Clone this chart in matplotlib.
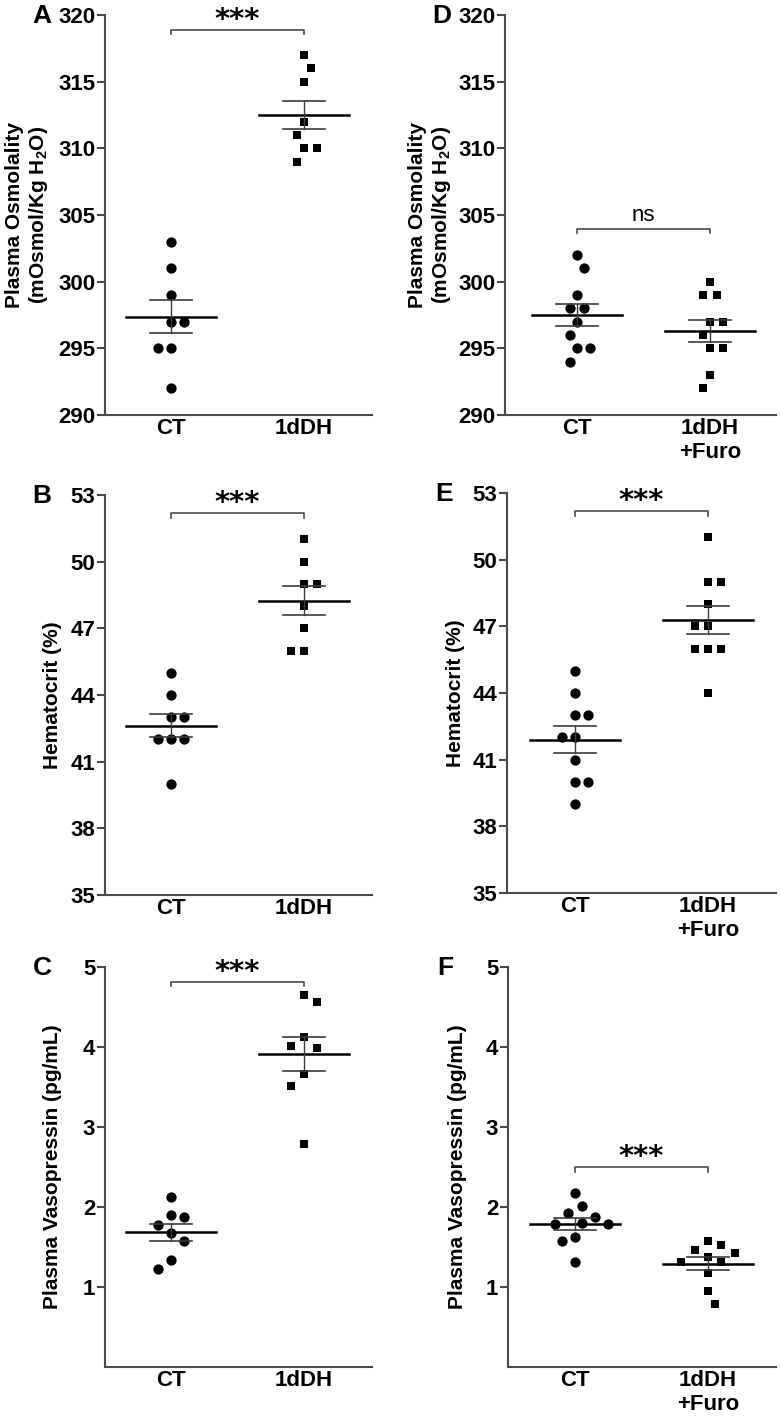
import numpy as np
import matplotlib
matplotlib.use('Agg')
import matplotlib.pyplot as plt

plt.rcParams['font.family'] = ['Liberation Sans', 'DejaVu Sans']
plt.rcParams['font.weight'] = 'bold'
plt.rcParams['mathtext.fontset'] = 'custom'
plt.rcParams['mathtext.rm'] = 'Liberation Sans:bold'
plt.rcParams['mathtext.it'] = 'Liberation Sans:bold'

# values
osm_ct = [303, 301, 299, 297, 297, 295, 295, 292]
osm_dh = [317, 316, 315, 312, 311, 310, 310, 309]
osm_ct2 = [302, 301, 299, 298, 298, 297, 296, 295, 295, 294]
osm_furo = [300, 299, 299, 297, 297, 296, 295, 295, 293, 292]

hct_ct = [45, 44, 43, 43, 42, 42, 42, 40]
hct_dh = [51, 50, 49, 49, 48, 47, 46, 46]
hct_ct2 = [45, 44, 43, 43, 42, 42, 41, 40, 40, 39]
hct_furo = [51, 49, 49, 48, 47, 47, 46, 46, 46, 44]

avp_ct = [2.12, 1.90, 1.87, 1.77, 1.67, 1.58, 1.34, 1.22]
avp_dh = [4.65, 4.56, 4.13, 4.01, 3.99, 3.66, 3.51, 2.79]
avp_ct2 = [2.17, 2.01, 1.92, 1.88, 1.80, 1.79, 1.79, 1.63, 1.58, 1.31]
avp_furo = [1.58, 1.52, 1.46, 1.43, 1.38, 1.31, 1.31, 1.18, 0.95, 0.79]

labels_dh = ['CT', '1dDH']
labels_furo = ['CT', '1dDH\n+Furo']

osm_label = 'Plasma Osmolality\n(mOsmol/Kg H$_2$O)'
hct_label = 'Hematocrit (%)'
avp_label = 'Plasma Vasopressin (pg/mL)'

osm_ticks = [290, 295, 300, 305, 310, 315, 320]
hct_ticks = [35, 38, 41, 44, 47, 50, 53]
avp_ticks = [1, 2, 3, 4, 5]

panels = [
    ('A', osm_label, osm_ct, osm_dh, labels_dh, (290, 320), osm_ticks, '***'),
    ('B', hct_label, hct_ct, hct_dh, labels_dh, (35, 53), hct_ticks, '***'),
    ('C', avp_label, avp_ct, avp_dh, labels_dh, (0, 5), avp_ticks, '***'),
    ('D', osm_label, osm_ct2, osm_furo, labels_furo, (290, 320), osm_ticks, 'ns'),
    ('E', hct_label, hct_ct2, hct_furo, labels_furo, (35, 53), hct_ticks, '***'),
    ('F', avp_label, avp_ct2, avp_furo, labels_furo, (0, 5), avp_ticks, '***'),
]

# layout in pixels: left spine, right end, top, bottom, x of first group, ylabel right edge
W, H = 780, 1418
boxes = [
    (105, 372, 15, 415, 171, 50),
    (105, 372, 495, 895, 171, 62),
    (105, 372, 967, 1367, 171, 62),
    (505, 776, 15, 415, 577, 453),
    (507, 776, 493, 893, 575, 465),
    (508, 776, 967, 1367, 575, 467),
]

GRAY = '#4a4a4a'


def swarm(ax, x0, vals, step=6.65, sx=13.0, sy=14.0):
    # spread overlapping points sideways (pixel space)
    vals = np.asarray(vals, dtype=float)
    pts = ax.transData.transform(np.column_stack([np.full(len(vals), x0), vals]))
    offs = np.zeros(len(vals))
    placed = []
    side = 1
    for i in np.argsort(-vals, kind='stable'):
        py = pts[i, 1]
        cands = [0]
        for k in range(1, 15):
            cands += [side * k, -side * k]
        for c in cands:
            dx = c * step
            if all(((dx - qx) / sx) ** 2 + ((py - qy) / sy) ** 2 >= 1 for qx, qy in placed):
                break
        placed.append((dx, py))
        offs[i] = dx
        if c != 0:
            side = -int(np.sign(c))
    back = ax.transData.inverted().transform(np.column_stack([pts[:, 0] + offs, pts[:, 1]]))
    return back[:, 0]


fig = plt.figure(figsize=(W / 100, H / 100), dpi=100)

for (letter, ylab, g1, g2, xlabs, ylim, yticks, sig), box in zip(panels, boxes):
    l, r, t, b, cx, lab_x = box
    unit = 133.0
    ax = fig.add_axes([l / W, 1 - b / H, (r - l) / W, (b - t) / H])
    ax.set_xlim(-(cx - l) / unit, (r - cx) / unit)
    ax.set_ylim(*ylim)
    ax.set_yticks(yticks)
    ax.set_xticks([0, 1])
    ax.set_xticklabels(xlabs)
    for s in ['top', 'right']:
        ax.spines[s].set_visible(False)
    for s in ['left', 'bottom']:
        ax.spines[s].set_color(GRAY)
        ax.spines[s].set_linewidth(1.5)
    ax.tick_params(axis='y', length=5.8, width=1.5, color=GRAY, pad=1.2, labelsize=16)
    ax.tick_params(axis='x', length=0, pad=2, labelsize=16)

    for i, (vals, mk, ms) in enumerate([(g1, 'o', 7.4), (g2, 's', 6.3)]):
        xs = swarm(ax, i, vals)
        ax.plot(xs, vals, ls='none', marker=mk, ms=ms, color='black', mew=0, zorder=3)
        m = np.mean(vals)
        se = np.std(vals, ddof=1) / np.sqrt(len(vals))
        ax.plot([i - 0.335, i + 0.335], [m, m], color='black', lw=1.8, zorder=4)
        for e in (m - se, m + se):
            ax.plot([i - 0.16, i + 0.16], [e, e], color='#3c3c3c', lw=1.2, zorder=4)
        ax.plot([i, i], [m - se, m + se], color='#3c3c3c', lw=1.0, zorder=4)

    # significance bracket
    top_all = max(max(g1), max(g2))
    y_hi = ax.transData.transform((0, top_all))[1]
    y_top = ax.transData.transform((0, ylim[1]))[1]
    yb_px = min(y_hi + 26, y_top - 15)
    inv = ax.transData.inverted()
    yb = inv.transform((0, yb_px))[1]
    yd = inv.transform((0, yb_px - 4.3))[1]
    ax.plot([0, 0, 1, 1], [yd, yb, yb, yd], color=GRAY, lw=1.2, clip_on=False)
    if sig == 'ns':
        ax.annotate(sig, xy=(0.5, yb), xytext=(0, 8), textcoords='offset pixels',
                    ha='center', va='baseline', fontsize=16, fontweight='normal')
    else:
        ax.annotate(sig, xy=(0.5, yb), xytext=(0, 2), textcoords='offset pixels',
                    ha='center', va='baseline', fontsize=21, fontweight='bold',
                    family='DejaVu Sans')

    ax.set_ylabel(ylab, fontsize=15, fontweight='bold', linespacing=1.15)
    ax.yaxis.set_label_coords(lab_x / W, 1 - (t + b) / 2 / H, transform=fig.transFigure)

    fig.text(l / W - 63 / W, 1 - (t + 8) / H, letter, ha='center', va='baseline',
             fontsize=19, fontweight='bold')

fig.savefig('out.png', dpi=100)
